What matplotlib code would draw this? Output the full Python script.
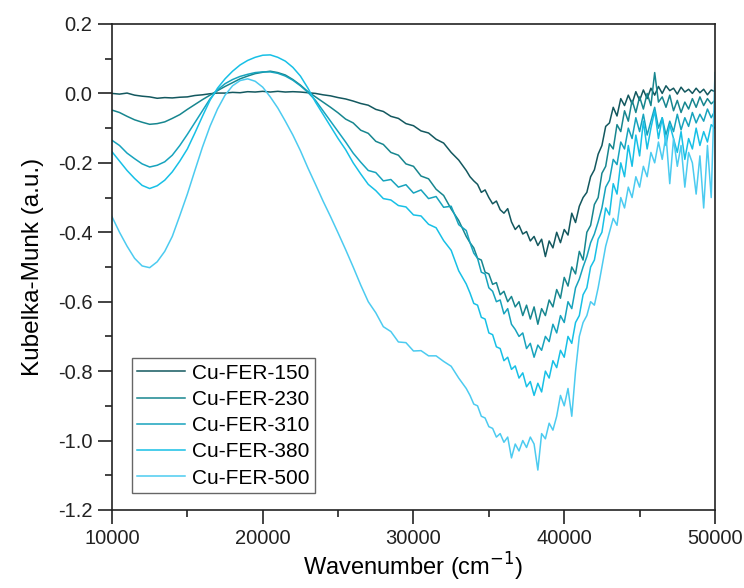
import numpy as np
import matplotlib
matplotlib.use('Agg')
import matplotlib.pyplot as plt
from matplotlib.ticker import MultipleLocator

plt.rcParams['font.family'] = ['Liberation Sans', 'DejaVu Sans']
plt.rcParams['axes.unicode_minus'] = False

# wavenumber grid (cm-1): coarse where smooth, finer in the noisy UV part
wavenumber = np.r_[np.arange(10000, 34000, 500), np.arange(33750, 50001, 250)]

labels = ['Cu-FER-150', 'Cu-FER-230', 'Cu-FER-310', 'Cu-FER-380', 'Cu-FER-500']
colors = ['#13585f', '#17868f', '#17a3bd', '#17c0e6', '#4ccbf0']

km_150 = [0.000, -0.002, 0.001, -0.005, -0.008, -0.010, -0.014, -0.012, -0.013, -0.011,
          -0.010, -0.006, -0.004, -0.001, 0.001, 0.001, 0.003, 0.002, 0.005, 0.004,
          0.006, 0.004, 0.006, 0.004, 0.005, 0.004, 0.002, 0.000, -0.004, -0.007,
          -0.012, -0.016, -0.022, -0.029, -0.034, -0.046, -0.052, -0.066, -0.072, -0.087,
          -0.093, -0.108, -0.114, -0.132, -0.143, -0.170, -0.192, -0.222,
          -0.240, -0.252, -0.262, -0.285, -0.278,
          -0.300, -0.318, -0.310, -0.335, -0.345, -0.332, -0.370, -0.392,
          -0.380, -0.405, -0.398, -0.425, -0.412, -0.438, -0.420, -0.470,
          -0.425, -0.445, -0.400, -0.430, -0.392, -0.408, -0.345, -0.372,
          -0.325, -0.300, -0.285, -0.240, -0.220, -0.175, -0.150, -0.095,
          -0.085, -0.040, -0.065, -0.015, -0.035, -0.005, -0.030, 0.005,
          -0.020, 0.010, -0.015, 0.015, -0.005, 0.020, 0.000, 0.022,
          0.008, 0.015, -0.002, 0.018, 0.004, 0.012, 0.000, 0.015,
          0.002, 0.012, -0.004, 0.010, 0.005]

km_230 = [-0.048, -0.055, -0.066, -0.076, -0.083, -0.089, -0.087, -0.082, -0.072, -0.061,
          -0.046, -0.032, -0.018, -0.005, 0.008, 0.020, 0.031, 0.042, 0.050, 0.057,
          0.061, 0.064, 0.060, 0.053, 0.040, 0.024, 0.005, -0.010, -0.025, -0.040,
          -0.056, -0.074, -0.085, -0.106, -0.115, -0.138, -0.147, -0.170, -0.178, -0.203,
          -0.210, -0.238, -0.246, -0.276, -0.294, -0.333, -0.366, -0.412,
          -0.430, -0.445, -0.475, -0.480, -0.515,
          -0.520, -0.550, -0.545, -0.580, -0.570, -0.600, -0.585, -0.615,
          -0.600, -0.640, -0.610, -0.650, -0.615, -0.665, -0.620, -0.640,
          -0.595, -0.615, -0.565, -0.590, -0.530, -0.555, -0.500, -0.520,
          -0.455, -0.480, -0.400, -0.380, -0.320, -0.300, -0.230, -0.210,
          -0.145, -0.160, -0.090, -0.110, -0.050, -0.080, -0.020, -0.055,
          -0.010, -0.045, 0.000, -0.035, 0.060, -0.025, -0.010, -0.040,
          -0.005, -0.050, -0.020, -0.055, -0.025, -0.045, -0.015, -0.040,
          -0.010, -0.035, -0.015, -0.030, -0.020]

km_310 = [-0.135, -0.150, -0.172, -0.188, -0.203, -0.212, -0.207, -0.197, -0.178, -0.150,
          -0.118, -0.084, -0.050, -0.016, 0.010, 0.028, 0.040, 0.049, 0.055, 0.060,
          0.062, 0.062, 0.058, 0.050, 0.038, 0.022, 0.003, -0.020, -0.050, -0.080,
          -0.110, -0.140, -0.172, -0.198, -0.222, -0.228, -0.252, -0.248, -0.270, -0.263,
          -0.287, -0.278, -0.303, -0.297, -0.328, -0.325, -0.378, -0.395,
          -0.430, -0.460, -0.475, -0.515, -0.520,
          -0.560, -0.570, -0.600, -0.595, -0.635, -0.620, -0.665, -0.680,
          -0.700, -0.690, -0.735, -0.720, -0.760, -0.725, -0.740, -0.700,
          -0.715, -0.665, -0.690, -0.640, -0.660, -0.600, -0.620, -0.560,
          -0.535, -0.500, -0.470, -0.430, -0.405, -0.370, -0.330, -0.270,
          -0.250, -0.190, -0.205, -0.140, -0.160, -0.100, -0.130, -0.070,
          -0.110, -0.060, -0.120, -0.080, -0.040, -0.100, -0.070, -0.120,
          -0.080, -0.110, -0.060, -0.105, -0.070, -0.095, -0.055, -0.085,
          -0.060, -0.080, -0.045, -0.070, -0.050]

km_380 = [-0.168, -0.195, -0.222, -0.245, -0.265, -0.274, -0.266, -0.250, -0.226, -0.195,
          -0.160, -0.114, -0.066, -0.020, 0.015, 0.042, 0.064, 0.082, 0.095, 0.104,
          0.110, 0.111, 0.104, 0.093, 0.075, 0.050, 0.015, -0.025, -0.060, -0.095,
          -0.130, -0.162, -0.200, -0.232, -0.262, -0.280, -0.303, -0.307, -0.323, -0.327,
          -0.350, -0.353, -0.377, -0.387, -0.424, -0.452, -0.511, -0.549,
          -0.575, -0.605, -0.610, -0.645, -0.650,
          -0.690, -0.695, -0.730, -0.735, -0.770, -0.760, -0.795, -0.785,
          -0.820, -0.805, -0.845, -0.830, -0.870, -0.835, -0.860, -0.800,
          -0.820, -0.770, -0.790, -0.740, -0.760, -0.700, -0.720, -0.660,
          -0.640, -0.580, -0.560, -0.500, -0.480, -0.420, -0.400, -0.330,
          -0.350, -0.260, -0.290, -0.200, -0.240, -0.150, -0.210, -0.120,
          -0.180, -0.080, -0.160, -0.100, -0.050, -0.130, -0.070, -0.150,
          -0.090, -0.130, -0.170, -0.110, -0.190, -0.130, -0.160, -0.100,
          -0.150, -0.110, -0.140, -0.090, -0.100]

km_500 = [-0.355, -0.400, -0.440, -0.475, -0.497, -0.502, -0.485, -0.455, -0.412, -0.352,
          -0.290, -0.222, -0.155, -0.095, -0.045, -0.005, 0.022, 0.037, 0.042, 0.035,
          0.018, -0.010, -0.042, -0.080, -0.120, -0.165, -0.215, -0.262, -0.310, -0.355,
          -0.402, -0.450, -0.500, -0.552, -0.600, -0.632, -0.672, -0.686, -0.716, -0.718,
          -0.742, -0.741, -0.756, -0.756, -0.772, -0.786, -0.820, -0.850,
          -0.870, -0.895, -0.900, -0.930, -0.935,
          -0.960, -0.965, -0.990, -0.980, -1.005, -0.990, -1.050, -1.010,
          -1.030, -1.000, -1.020, -0.990, -1.010, -1.085, -0.980, -0.995,
          -0.950, -0.970, -0.930, -0.870, -0.900, -0.850, -0.930, -0.800,
          -0.700, -0.660, -0.640, -0.600, -0.610, -0.560, -0.500, -0.440,
          -0.400, -0.360, -0.380, -0.300, -0.330, -0.270, -0.300, -0.240,
          -0.270, -0.210, -0.240, -0.170, -0.200, -0.140, -0.190, -0.120,
          -0.260, -0.130, -0.210, -0.150, -0.270, -0.170, -0.200, -0.290,
          -0.180, -0.330, -0.150, -0.300, 0.060]

series = [km_150, km_230, km_310, km_380, km_500]

fig = plt.figure(figsize=(7.44, 5.88), dpi=100, facecolor='w')
ax = fig.add_axes([0.1505, 0.1327, 0.8105, 0.8265])

for y, lab, c in zip(series, labels, colors):
    ax.plot(wavenumber, y, color=c, lw=1.1, label=lab)

ax.set_xlim(10000, 50000)
ax.set_ylim(-1.2, 0.2)
ax.xaxis.set_major_locator(MultipleLocator(10000))
ax.xaxis.set_minor_locator(MultipleLocator(5000))
ax.yaxis.set_major_locator(MultipleLocator(0.2))
ax.yaxis.set_minor_locator(MultipleLocator(0.1))
ax.yaxis.set_major_formatter(plt.FuncFormatter(lambda v, p: '%.1f' % v))
ax.tick_params(which='major', direction='out', length=10, width=1.2, labelsize=14.5,
               top=False, right=False, colors='#222222', pad=4)
ax.tick_params(which='minor', direction='out', length=5, width=1.2, top=False, right=False,
               colors='#222222')
for s in ax.spines.values():
    s.set_linewidth(1.2)
    s.set_color('#222222')

ax.set_xlabel('Wavenumber (cm$^{-1}$)', fontsize=17, labelpad=2)
ax.set_ylabel('Kubelka-Munk (a.u.)', fontsize=17.5, labelpad=10)

leg = ax.legend(loc='lower left', bbox_to_anchor=(0.033, 0.035), borderaxespad=0,
                fontsize=15, handlelength=2.3, handletextpad=0.35, labelspacing=0.35,
                borderpad=0.25, fancybox=False, framealpha=1)
leg.get_frame().set_edgecolor('#666666')
leg.get_frame().set_linewidth(1.0)

plt.savefig('out.png', dpi=100)
